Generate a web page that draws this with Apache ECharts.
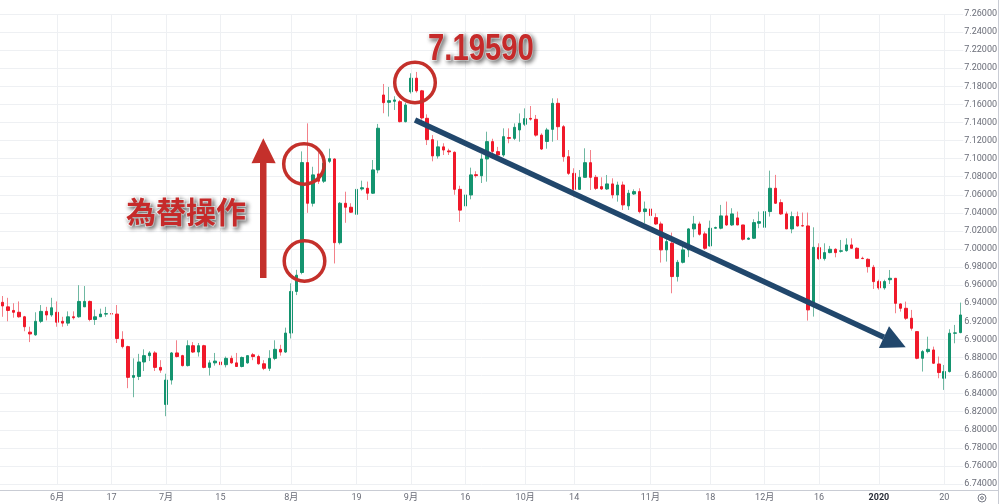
<!DOCTYPE html>
<html>
<head>
<meta charset="utf-8">
<script src="https://cdn.jsdelivr.net/npm/echarts@6/dist/echarts.min.js"></script>
<style>
html,body{margin:0;padding:0;background:#ffffff;}
#chart{width:1000px;height:504px;}
</style>
</head>
<body>
<div id="chart"></div>
<script>
// ---- data (USD/CNH daily) ----
const startDate = '2019-05-20';
const holidays = ['2019-12-25', '2020-01-01'];

const opens = [
6.941,6.936,6.932,6.930,6.925,6.908,6.905,6.920,6.931,6.927,
6.930,6.920,6.918,6.925,6.925,6.936,6.942,6.922,6.925,6.928,
6.9285,6.928,6.900,6.892,6.858,6.859,6.875,6.882,6.885,6.869,
6.828,6.855,6.885,6.882,6.871,6.893,6.886,6.893,6.869,6.874,
6.875,6.872,6.879,6.874,6.870,6.874,6.883,6.881,6.873,6.868,
6.879,6.889,6.886,6.907,6.953,6.974,7.0956,7.0506,7.083,7.075,
7.097,7.0996,7.007,7.0506,7.0462,7.0384,7.0664,7.0672,7.0617,7.0875,
7.1704,7.1623,7.1634,7.163,7.1409,7.174,7.189,7.175,7.1446,7.121,
7.103,7.113,7.1085,7.107,7.066,7.0476,7.0598,7.0822,7.081,7.0996,
7.1188,7.1077,7.104,7.1232,7.1224,7.1317,7.138,7.1445,7.1435,7.126,
7.119,7.1324,7.1612,7.1353,7.1021,7.0837,7.066,7.0793,7.0955,7.0793,
7.069,7.0664,7.072,7.0598,7.0708,7.0477,7.0609,7.0635,7.0414,7.0443,
7.0347,7.0277,6.999,7.0064,6.9695,6.9853,6.999,7.0222,7.0277,7.0167,
7.0034,7.023,7.023,7.0366,7.0266,7.0344,7.0266,7.0108,7.0119,7.0285,
7.024,7.0414,7.0672,7.0513,7.0388,7.0222,7.0359,7.0258,7.0255,6.9363,
7.0015,6.9894,6.996,6.9997,6.9975,6.9982,7.0045,7.0008,6.9897,6.9886,
6.9798,6.964,6.957,6.966,6.9676,6.9392,6.9344,6.9234,6.9086,6.8791,
6.8865,6.8883,6.8728,6.857,6.8644,6.9068,6.9075
];
const highs = [
6.948,6.946,6.940,6.942,6.926,6.914,6.930,6.938,6.936,6.946,
6.942,6.925,6.931,6.931,6.960,6.959,6.943,6.933,6.934,6.936,
6.933,6.938,6.909,6.893,6.879,6.884,6.889,6.887,6.887,6.877,
6.862,6.886,6.899,6.883,6.899,6.897,6.896,6.894,6.877,6.885,
6.885,6.881,6.882,6.885,6.881,6.882,6.885,6.883,6.877,6.888,
6.899,6.894,6.913,6.962,6.977,7.108,7.139,7.091,7.107,7.099,
7.111,7.1004,7.052,7.0634,7.0506,7.0756,7.0756,7.0746,7.0985,7.1384,
7.1826,7.1793,7.169,7.165,7.162,7.1944,7.1959,7.176,7.149,7.126,
7.120,7.117,7.111,7.108,7.070,7.063,7.090,7.086,7.105,7.1298,
7.122,7.113,7.1335,7.1335,7.139,7.150,7.1556,7.1582,7.1483,7.128,
7.134,7.1667,7.1667,7.1372,7.1095,7.0893,7.0874,7.1114,7.1095,7.0819,
7.0793,7.0819,7.0782,7.0745,7.0746,7.0654,7.066,7.0672,7.0525,7.0506,
7.0395,7.0303,7.0156,7.0182,6.9879,7.0064,7.023,7.0366,7.0303,7.0193,
7.0314,7.0248,7.0488,7.0525,7.0451,7.0414,7.0266,7.013,7.0329,7.0414,
7.0414,7.0867,7.082,7.055,7.0414,7.0414,7.0414,7.0403,7.0403,7.024,
7.0063,7.0063,7.0034,7.0008,7.010,7.0118,7.0118,7.0019,6.9915,6.9897,
6.9824,6.966,6.966,6.9768,6.9676,6.9399,6.9418,6.9326,6.9086,6.8883,
6.903,6.892,6.881,6.8717,6.9112,6.916,6.9407
];
const lows = [
6.925,6.920,6.924,6.924,6.909,6.897,6.904,6.918,6.921,6.925,
6.914,6.914,6.915,6.922,6.924,6.936,6.920,6.916,6.925,6.925,
6.927,6.896,6.890,6.846,6.836,6.855,6.865,6.876,6.865,6.863,
6.815,6.850,6.880,6.870,6.870,6.885,6.881,6.868,6.860,6.871,
6.871,6.869,6.873,6.870,6.869,6.873,6.877,6.872,6.866,6.865,
6.877,6.882,6.885,6.901,6.949,6.972,7.040,7.047,7.072,7.073,
7.095,6.984,7.005,7.029,7.040,7.0373,7.0646,7.0543,7.061,7.0838,
7.1502,7.1466,7.1538,7.140,7.140,7.172,7.173,7.143,7.115,7.097,
7.100,7.104,7.104,7.060,7.030,7.043,7.055,7.079,7.073,7.0745,
7.100,7.098,7.102,7.117,7.1206,7.1187,7.136,7.142,7.1243,7.1095,
7.111,7.1187,7.1206,7.0966,7.0819,7.058,7.0653,7.0793,7.0653,7.0653,
7.0653,7.0653,7.056,7.0524,7.0432,7.0432,7.0598,7.0395,7.0285,7.0359,
7.0266,6.985,6.9861,6.951,6.964,6.984,6.991,7.013,7.0148,6.999,
7.0027,7.0226,7.0218,7.0255,7.0255,7.0263,7.0093,7.010,7.0111,7.023,
7.0218,7.0359,7.0499,7.0377,7.0222,7.0174,7.0248,7.0248,6.9208,6.9252,
6.9879,6.9872,6.9953,6.9908,6.996,6.997,7.0008,6.9894,6.9888,6.9739,
6.9558,6.955,6.955,6.9613,6.9289,6.9307,6.9215,6.9097,6.878,6.8644,
6.8846,6.8728,6.857,6.8441,6.8633,6.8957,6.9068
];
const closes = [
6.937,6.932,6.930,6.925,6.914,6.906,6.920,6.931,6.927,6.935,
6.919,6.918,6.925,6.924,6.942,6.942,6.922,6.925,6.928,6.9285,
6.928,6.901,6.892,6.858,6.860,6.875,6.882,6.885,6.869,6.866,
6.855,6.885,6.881,6.871,6.893,6.886,6.893,6.869,6.874,6.876,
6.872,6.879,6.874,6.870,6.880,6.882,6.881,6.873,6.868,6.879,
6.889,6.886,6.907,6.953,6.971,7.0956,7.0506,7.082,7.075,7.095,
7.100,7.007,7.0506,7.0462,7.0407,7.066,7.0678,7.0617,7.0875,7.1336,
7.1619,7.1641,7.1649,7.1409,7.1593,7.189,7.175,7.145,7.121,7.103,
7.113,7.1095,7.1075,7.066,7.043,7.0598,7.082,7.0812,7.0996,7.1188,
7.108,7.104,7.1243,7.1225,7.1346,7.139,7.1442,7.1437,7.126,7.1106,
7.1317,7.1612,7.1353,7.1021,7.0837,7.066,7.0793,7.0955,7.0793,7.0671,
7.0664,7.072,7.0598,7.0708,7.0488,7.0617,7.0635,7.0414,7.0443,7.037,
7.0277,6.999,7.0082,6.9695,6.9853,6.999,7.0222,7.0277,7.0163,7.0008,
7.023,7.0237,7.0366,7.0266,7.0388,7.0266,7.0108,7.0119,7.0292,7.0303,
7.0414,7.0672,7.0506,7.0388,7.0222,7.0359,7.0255,7.0255,6.9326,7.0019,
6.9894,6.996,6.9997,6.996,6.998,7.0045,7.0008,6.9897,6.9894,6.9805,
6.9639,6.957,6.964,6.9676,6.9399,6.9344,6.9234,6.9123,6.8791,6.8865,
6.889,6.8736,6.8633,6.8644,6.9068,6.9072,6.927
];

// x-axis tick labels (date -> label)
const tickLabels = {
  '2019-06-03': '6月', '2019-06-17': '17', '2019-07-01': '7月', '2019-07-15': '15',
  '2019-08-01': '8月', '2019-08-19': '19', '2019-09-02': '9月', '2019-09-16': '16',
  '2019-10-01': '10月', '2019-10-14': '14', '2019-11-01': '11月', '2019-11-18': '18',
  '2019-12-02': '12月', '2019-12-16': '16', '2020-01-02': '2020', '2020-01-20': '20'
};
// y-axis ticks
const yMin = 6.74, yMax = 7.26, yStep = 0.02;

// ---- build trading-day categories ----
function buildDates(n) {
  const out = [];
  const p = startDate.split('-').map(Number);
  let t = Date.UTC(p[0], p[1] - 1, p[2]);
  while (out.length < n) {
    const d = new Date(t);
    const wd = d.getUTCDay();
    const s = d.toISOString().slice(0, 10);
    if (wd !== 0 && wd !== 6 && holidays.indexOf(s) < 0) out.push(s);
    t += 86400000;
  }
  return out;
}
const dates = buildDates(opens.length);

const wickData = dates.map((d, i) => [opens[i], closes[i], lows[i], highs[i]]);
const bodyData = dates.map((d, i) => [opens[i], closes[i], Math.min(opens[i], closes[i]), Math.max(opens[i], closes[i])]);

const UP = '#14946f', DOWN = '#f0192a';
const UP_W = '#6fb8a2', DOWN_W = '#f3818a';
const ANNO_RED = '#c4302b';
const NAVY = '#21476c';
const GRID = '#eef0f3';

const chart = echarts.init(document.getElementById('chart'), null, {renderer: 'canvas'});

chart.setOption({
  animation: false,
  backgroundColor: '#ffffff',
  grid: {left: 0, right: 34.3, top: 14, bottom: 20, containLabel: false},
  xAxis: {
    type: 'category',
    data: dates,
    boundaryGap: true,
    axisLine: {show: false},
    axisTick: {show: false},
    splitLine: {show: false},
    axisLabel: {
      interval: (idx, val) => tickLabels.hasOwnProperty(val),
      formatter: (val) => {
        const l = tickLabels[val] || '';
        return l === '2020' ? '{b|2020}' : l;
      },
      margin: 9,
      color: '#6a6d78',
      fontSize: 9,
      fontFamily: 'Roboto, "Noto Sans CJK JP", sans-serif',
      rich: {b: {fontWeight: 'bold', color: '#2a2e39', fontSize: 9, fontFamily: 'Roboto, sans-serif'}}
    }
  },
  yAxis: {
    type: 'value',
    position: 'right',
    min: yMin, max: yMax, interval: yStep,
    axisLine: {show: false},
    axisTick: {show: false},
    axisLabel: {
      formatter: (v) => v.toFixed(5),
      color: '#6a6d78', fontSize: 9, margin: 1,
      fontFamily: 'Roboto, sans-serif'
    },
    splitLine: {lineStyle: {color: GRID, width: 1}}
  },
  series: [
    {
      type: 'line', data: [], z: 1, silent: true,
      markLine: {
        silent: true, symbol: ['none', 'none'], animation: false,
        label: {show: false},
        lineStyle: {color: GRID, width: 1, type: 'solid'},
        data: Object.keys(tickLabels).map(d => ({xAxis: d}))
      }
    },
    {
      name: 'wick', type: 'candlestick', data: wickData, z: 2, barWidth: 1,
      itemStyle: {color: UP_W, color0: DOWN_W, borderColor: UP_W, borderColor0: DOWN_W, borderWidth: 1}
    },
    {
      name: 'body', type: 'candlestick', data: bodyData, z: 3, barWidth: 3,
      itemStyle: {color: UP, color0: DOWN, borderColor: UP, borderColor0: DOWN, borderWidth: 1}
    }
  ],
  graphic: [
    // frame lines
    {type: 'line', shape: {x1: 998.5, y1: 0, x2: 998.5, y2: 504}, style: {stroke: '#c9ccd4', lineWidth: 1}, z: 50},
    {type: 'line', shape: {x1: 0, y1: 490.5, x2: 998, y2: 490.5}, style: {stroke: '#c9ccd4', lineWidth: 1}, z: 50},
    // settings icon
    {type: 'circle', shape: {cx: 982, cy: 498, r: 4}, style: {fill: 'none', stroke: '#7a7d88', lineWidth: 1}, z: 50},
    {type: 'circle', shape: {cx: 982, cy: 498, r: 1.4}, style: {fill: 'none', stroke: '#7a7d88', lineWidth: 1}, z: 50},
    // red upward arrow
    {type: 'polygon', z: 60,
      shape: {points: [[260, 278], [266.5, 278], [266.5, 163], [275.7, 163.3], [263.3, 138.3], [251.5, 163.3], [260, 163]]},
      style: {fill: ANNO_RED}},
    // circles
    {type: 'circle', z: 60, shape: {cx: 304, cy: 164, r: 20.3}, style: {fill: 'none', stroke: ANNO_RED, lineWidth: 3.5}},
    {type: 'circle', z: 60, shape: {cx: 304.5, cy: 261, r: 20.3}, style: {fill: 'none', stroke: ANNO_RED, lineWidth: 3.5}},
    {type: 'circle', z: 60, shape: {cx: 415, cy: 82.5, r: 20.3}, style: {fill: 'none', stroke: ANNO_RED, lineWidth: 3.5}},
    // navy trend arrow
    {type: 'line', z: 60, shape: {x1: 415, y1: 120, x2: 884, y2: 337.2}, style: {stroke: NAVY, lineWidth: 5.5, lineCap: 'butt'}},
    {type: 'polygon', z: 60, shape: {points: [[905.7, 347.3], [889.0, 326.3], [878.9, 348.1]]}, style: {fill: NAVY}},
    // texts
    {type: 'text', z: 70, x: 186, y: 212,
      style: {text: '為替操作', fill: '#c62a2a', font: 'bold 30px "Noto Sans CJK JP", sans-serif',
        align: 'center', verticalAlign: 'middle', textAlign: 'center', textVerticalAlign: 'middle',
        stroke: '#ffffff', lineWidth: 2,
        shadowColor: 'rgba(0,0,0,0.45)', shadowBlur: 4, shadowOffsetX: 2, shadowOffsetY: 2,
        textShadowColor: 'rgba(0,0,0,0.45)', textShadowBlur: 4, textShadowOffsetX: 2, textShadowOffsetY: 2}},
    {type: 'text', z: 70, x: 428, y: 50, scaleX: 0.79,
      style: {text: '7.19590', fill: '#c62a2a', font: 'bold 37px "Liberation Sans", Arial, sans-serif',
        align: 'left', verticalAlign: 'middle', textAlign: 'left', textVerticalAlign: 'middle',
        stroke: '#ffffff', lineWidth: 2,
        shadowColor: 'rgba(0,0,0,0.45)', shadowBlur: 4, shadowOffsetX: 2, shadowOffsetY: 2,
        textShadowColor: 'rgba(0,0,0,0.45)', textShadowBlur: 4, textShadowOffsetX: 2, textShadowOffsetY: 2}}
  ]
});
</script>
</body>
</html>
